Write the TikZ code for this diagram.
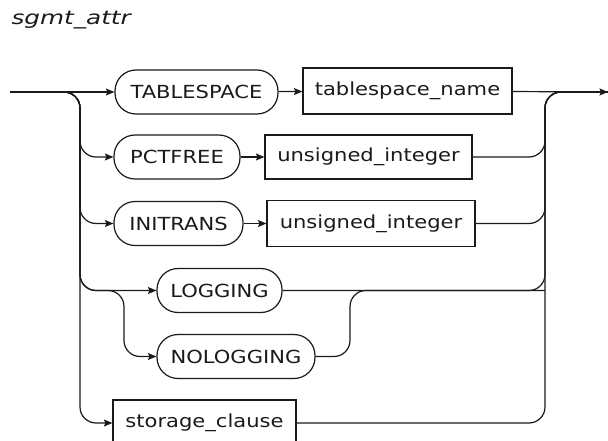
\documentclass[tikz,border=0pt]{standalone}
\usepackage{fontspec}
\usepackage{graphicx}
\setmainfont{DejaVu Sans}
\usetikzlibrary{arrows.meta}
\definecolor{ink}{HTML}{1A1A1A}
\newcommand{\wtx}[1]{\scalebox{1.17}[1]{#1}}
\tikzset{
  base/.style={draw=ink, line width=1.2pt, text=ink, inner sep=0pt,
    minimum height=44pt, font=\fontsize{18}{20}\selectfont},
  term/.style={base, rounded corners=21pt},
  nterm/.style={base},
  conn/.style={draw=ink, line width=1.2pt, rounded corners=16pt},
  arr/.style={-{Stealth[length=8.5pt,width=7pt,inset=1.5pt]}}
}
\begin{document}
\begin{tikzpicture}[x=1pt,y=-1pt]
\useasboundingbox (0,0) rectangle (608,441);
\node[anchor=west, text=ink, font=\fontsize{19}{21}\selectfont\itshape] (title) at (8,20) {\scalebox{1.3}[1]{sgmt\_attr}};

\node[term, minimum width=163pt] (TS) at (196.5,92) {\wtx{TABLESPACE}};
\node[nterm, minimum width=209pt, minimum height=46pt] (TSN) at (407.5,91) {\wtx{tablespace\_name}};
\node[term, minimum width=126pt] (PCT) at (177,157) {\wtx{PCTFREE}};
\node[nterm, minimum width=207pt] (U2) at (368.5,157) {\wtx{unsigned\_integer}};
\node[term, minimum width=129pt] (INI) at (178.5,223.5) {\wtx{INITRANS}};
\node[nterm, minimum width=208pt, minimum height=46pt] (U3) at (371,223.5) {\wtx{unsigned\_integer}};
\node[term, minimum width=125pt] (LOG) at (219.5,290.5) {\wtx{LOGGING}};
\node[term, minimum width=158pt] (NOLOG) at (236,356.5) {\wtx{NOLOGGING}};
\node[nterm, minimum width=183pt, minimum height=46pt] (SC) at (204.5,423) {\wtx{storage\_clause}};

\coordinate (start) at (10,92);
\coordinate (L) at (80,92);
\coordinate (R) at (545,92);
\coordinate (end) at (608,92);
\coordinate (Li) at (124,290.5);
\coordinate (Ri) at (350,290.5);

% main line
\draw[conn,arr] (start) -- (TS);
\draw[conn,arr] (TS) -- (TSN);
\draw[conn,arr] (TSN) -- (end);

% left branches
\draw[conn,arr] (start) -- (L) -- (L |- PCT) -- (PCT);
\draw[conn,arr] (PCT) -- (U2);
\draw[conn,arr] (start) -- (L) -- (L |- INI) -- (INI);
\draw[conn,arr] (INI) -- (U3);
\draw[conn,arr] (start) -- (L) -- (L |- LOG) -- (LOG);
\draw[conn,arr] (start) -- (L) -- (L |- LOG) -- (Li) -- (Li |- NOLOG) -- (NOLOG);
\draw[conn,arr] (start) -- (L) -- (L |- SC) -- (SC);

% right branches
\draw[conn] (U2) -- (R |- U2) -- (R) -- (end);
\draw[conn] (U3) -- (R |- U3) -- (R) -- (end);
\draw[conn] (LOG) -- (R |- LOG) -- (R) -- (end);
\draw[conn] (NOLOG) -- (Ri |- NOLOG) -- (Ri) -- (R |- LOG);
\draw[conn] (SC) -- (R |- SC) -- (R) -- (end);
\end{tikzpicture}
\end{document}
